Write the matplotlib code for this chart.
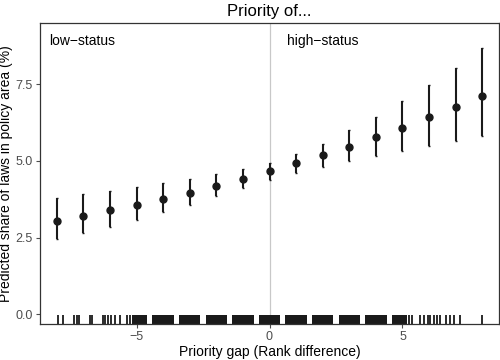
import matplotlib.pyplot as plt
from matplotlib.ticker import FormatStrFormatter

plt.rcParams["font.family"] = ["Liberation Sans", "DejaVu Sans"]

# predicted values with confidence bounds
gap = [-8, -7, -6, -5, -4, -3, -2, -1, 0, 1, 2, 3, 4, 5, 6, 7, 8]
pred = [3.04, 3.20, 3.39, 3.57, 3.77, 3.97, 4.19, 4.42, 4.66, 4.92, 5.18, 5.47, 5.78, 6.09, 6.42, 6.76, 7.12]
upper = [3.79, 3.91, 4.01, 4.14, 4.27, 4.40, 4.56, 4.73, 4.94, 5.23, 5.57, 6.01, 6.44, 6.95, 7.47, 8.04, 8.67]
lower = [2.44, 2.65, 2.84, 3.08, 3.32, 3.58, 3.86, 4.13, 4.39, 4.62, 4.81, 5.00, 5.16, 5.33, 5.50, 5.66, 5.83]

# rug: single observations and densely packed stretches
rug_x = [-7.95, -7.78, -7.34, -7.25, -7.16, -6.75, -6.66, -6.27, -6.18, -6.06, -5.96,
         -5.81, -5.62, -5.34, -5.24, 5.23, 5.36, 5.67, 5.82, 5.95, 6.05, 6.18, 6.28,
         6.43, 6.65, 6.78, 6.93, 7.18, 7.99]
rug_blocks = [(-5.17, -4.6), (-4.4, -3.6), (-3.4, -2.6), (-2.4, -1.6), (-1.4, -0.6),
              (-0.4, 0.4), (0.6, 1.4), (1.6, 2.4), (2.6, 3.4), (3.6, 4.4), (4.6, 5.17)]

fig = plt.figure(figsize=(5, 3.6), dpi=100)
ax = fig.add_axes([0.08, 0.099, 0.918, 0.837])

ax.axvline(0, color="#c8c8c8", lw=0.9, zorder=1)

err = [[p - l for p, l in zip(pred, lower)], [u - p for p, u in zip(pred, upper)]]
ax.errorbar(gap, pred, yerr=err, fmt="o", color="#1a1a1a", ms=5, elinewidth=1.5,
            capsize=1, capthick=1, zorder=3)

tr = ax.get_xaxis_transform()
for x in rug_x:
    ax.plot([x, x], [0, 0.03], color="#1a1a1a", lw=1.3, transform=tr, solid_capstyle="butt")
ax.broken_barh([(a, b - a) for a, b in rug_blocks], (0, 0.03), facecolor="#1a1a1a",
               transform=tr)

ax.text(-8.3, 9.15, "low\u2212status", fontsize=10, va="top", ha="left")
ax.text(0.65, 9.15, "high\u2212status", fontsize=10, va="top", ha="left")

ax.set_xlim(-8.63, 8.63)
ax.set_ylim(-0.33, 9.5)
ax.set_xticks([-5, 0, 5])
ax.set_yticks([0, 2.5, 5, 7.5])
ax.yaxis.set_major_formatter(FormatStrFormatter("%.1f"))
ax.tick_params(colors="#4d4d4d", labelsize=9, length=3, width=0.8, pad=2)
for s in ax.spines.values():
    s.set_color("#333333")
    s.set_linewidth(0.9)

ax.set_xlabel("Priority gap (Rank difference)", fontsize=10, labelpad=1)
ax.set_ylabel("Predicted share of laws in policy area (%)", fontsize=10, labelpad=2)
ax.set_title("Priority of...", fontsize=12, pad=5)

fig.savefig("out.png", dpi=100)
